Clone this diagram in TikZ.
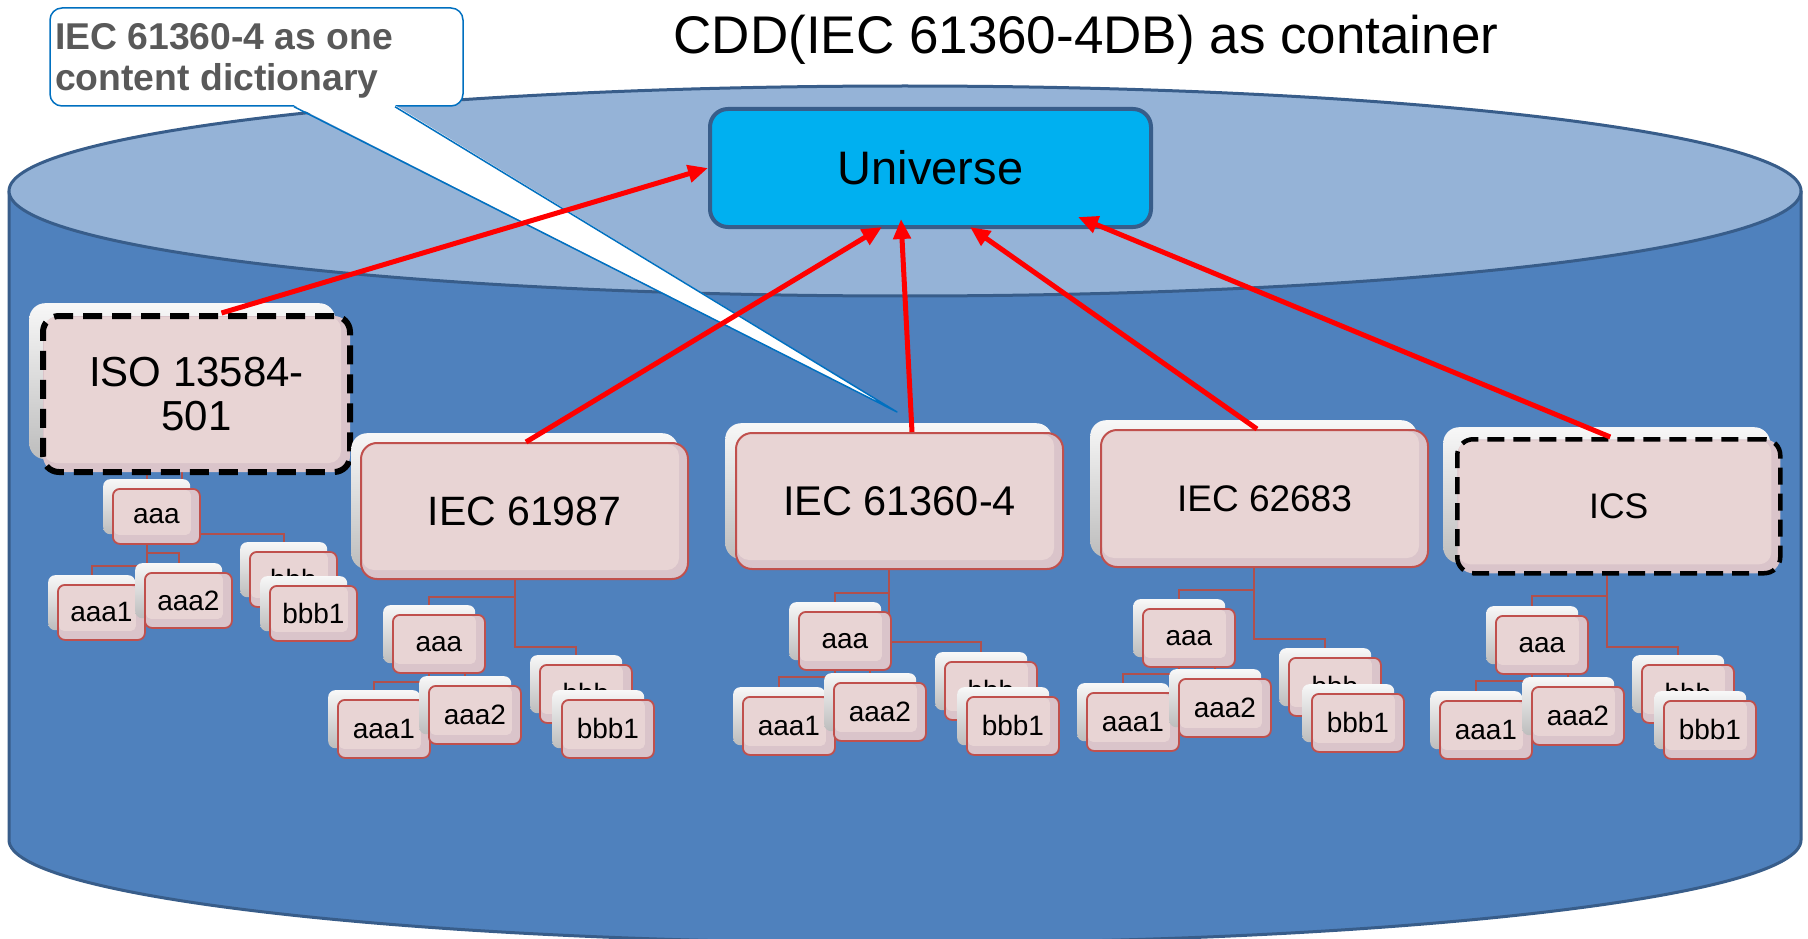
\documentclass[tikz,border=0pt]{standalone}
\usepackage{fontspec}
\setmainfont{Liberation Sans}
\usetikzlibrary{arrows.meta}

\definecolor{cylbody}{HTML}{4F81BD}
\definecolor{cyltop}{HTML}{95B3D7}
\definecolor{cylline}{HTML}{385D8A}
\definecolor{unifill}{HTML}{00B0F0}
\definecolor{cardred}{HTML}{C0504D}
\definecolor{cardfill}{HTML}{E8D4D4}
\definecolor{cardshade}{HTML}{DAC4CA}
\definecolor{treered}{HTML}{B0504D}
\definecolor{callblue}{HTML}{0070C0}
\definecolor{calltext}{HTML}{595959}

\pgfdeclarelayer{bg}
\pgfdeclarelayer{conn}
\pgfsetlayers{bg,conn,main}

% card size and front/back offset
\newcommand\cw{92pt}
\newcommand\ch{58pt}
\newcommand\coff{9}

\tikzset{
  shadeinner/.style={path picture={\fill[cardfill, rounded corners=#1]
      ([shift={(1pt,-1pt)}]path picture bounding box.north west) rectangle
      ([shift={(-9pt,9pt)}]path picture bounding box.south east);}},
  backcard/.style={anchor=north west, inner sep=0pt, rounded corners=7pt,
      top color=white!97!black, bottom color=white!74!black,
      minimum width=\cw, minimum height=\ch},
  frontcard/.style={anchor=north west, inner sep=0pt, rounded corners=7pt,
      fill=cardshade, draw=cardred, line width=1.8pt, shadeinner=5pt,
      minimum width=\cw, minimum height=\ch, font=\fontsize{28}{30}\selectfont},
  mainback/.style={anchor=north west, inner sep=0pt, rounded corners=16pt,
      top color=white!97!black, bottom color=white!74!black},
  mainfront/.style={anchor=north west, inner sep=0pt, rounded corners=16pt,
      fill=cardshade, draw=cardred, line width=2pt, shadeinner=12pt, align=center},
  dashedfront/.style={mainfront, draw=black, dash pattern=on 19pt off 10pt},
  treeline/.style={draw=treered, line width=1.8pt},
  relarrow/.style={draw=red, line width=5pt, -{Triangle[length=20pt,width=17pt]}},
  calltxt/.style={anchor=base west, inner sep=0pt, text=calltext,
      font=\fontsize{37.3}{40}\selectfont\bfseries},
}

% a card: white back card plus pink front card
\newcommand\card[4]{%
  \node[backcard] (#1-b) at (#2,#3) {};
  \node[frontcard] (#1) at (#2+\coff,#3+\coff) {#4};}
% elbow connector between back cards, horizontal run at y = #3
\newcommand\link[3]{\draw[treeline] (#1-b.south) |- (#2-b.north |- 0,#3) -- (#2-b.north);}

\begin{document}
\begin{tikzpicture}[x=1pt,y=-1pt]
\useasboundingbox (0,0) rectangle (1808,939);

% container cylinder
\begin{pgfonlayer}{bg}
  \fill[white] (0,0) rectangle (1808,939);
  \fill[cylbody] (9,191) -- (9,840) .. controls (9,896.9) and (410.1,943) .. (905,943)
      .. controls (1399.9,943) and (1801,896.9) .. (1801,840) -- (1801,191) -- cycle;
  \draw[cylline, line width=3pt] (9,191) -- (9,840) .. controls (9,896.9) and (410.1,943) .. (905,943)
      .. controls (1399.9,943) and (1801,896.9) .. (1801,840) -- (1801,191);
  \draw[cylline, line width=3pt, fill=cyltop] (905,191) ellipse [x radius=896pt, y radius=105pt];
\end{pgfonlayer}

% title
\node[font=\fontsize{53}{60}\selectfont, anchor=base, inner sep=0pt] (title) at (1086,54)
  {CDD(IEC 61360-4DB) as container};

% dictionaries
\node[mainback, minimum width=306pt, minimum height=156pt] (t1-b) at (29,303) {};
\node[dashedfront, line width=6pt, minimum width=307pt, minimum height=156pt,
      font=\fontsize{42}{44}\selectfont] (t1) at (40,313) {ISO 13584-\\501};

\node[mainback, minimum width=327pt, minimum height=136pt] (t2-b) at (351,433) {};
\node[mainfront, minimum width=327pt, minimum height=136pt,
      font=\fontsize{41}{44}\selectfont] (t2) at (360,442) {IEC 61987};

\node[mainback, minimum width=327pt, minimum height=136pt] (t3-b) at (725,423) {};
\node[mainfront, minimum width=327pt, minimum height=136pt,
      font=\fontsize{41.5}{44}\selectfont] (t3) at (735,432) {IEC 61360-4};

\node[mainback, minimum width=327pt, minimum height=137pt] (t4-b) at (1090,420) {};
\node[mainfront, minimum width=327pt, minimum height=137pt,
      font=\fontsize{37}{40}\selectfont] (t4) at (1100,429) {IEC 62683};

\node[mainback, minimum width=327pt, minimum height=136pt] (t5-b) at (1443,427) {};
\node[dashedfront, line width=4.5pt, dash pattern=on 17pt off 9pt, minimum width=323pt,
      minimum height=134pt, font=\fontsize{35.5}{40}\selectfont] (t5) at (1455,437) {ICS};

% ISO 13584-501 tree
\renewcommand\cw{87pt}\renewcommand\ch{55pt}
\card{t1aaa}{103}{479}{aaa}
\card{t1bbb}{240}{542}{bbb}
\card{t1aaa1}{48}{575}{aaa1}
\card{t1aaa2}{135}{563}{aaa2}
\card{t1bbb1}{260}{576}{bbb1}

% IEC 61987 tree
\renewcommand\cw{92pt}\renewcommand\ch{58pt}
\card{t2aaa}{383}{605}{aaa}
\card{t2bbb}{530}{655}{bbb}
\card{t2aaa1}{328}{690}{aaa1}
\card{t2aaa2}{419}{676}{aaa2}
\card{t2bbb1}{552}{690}{bbb1}

% IEC 61360-4 tree
\card{t3aaa}{789}{602}{aaa}
\card{t3bbb}{935}{652}{bbb}
\card{t3aaa1}{733}{687}{aaa1}
\card{t3aaa2}{824}{673}{aaa2}
\card{t3bbb1}{957}{687}{bbb1}

% IEC 62683 tree
\card{t4aaa}{1133}{599}{aaa}
\card{t4bbb}{1279}{648}{bbb}
\card{t4aaa1}{1077}{683}{aaa1}
\card{t4aaa2}{1169}{669}{aaa2}
\card{t4bbb1}{1302}{684}{bbb1}

% ICS tree
\card{t5aaa}{1486}{606}{aaa}
\card{t5bbb}{1632}{655}{bbb}
\card{t5aaa1}{1430}{691}{aaa1}
\card{t5aaa2}{1522}{677}{aaa2}
\card{t5bbb1}{1654}{691}{bbb1}

% tree connectors, behind the cards
\begin{pgfonlayer}{conn}
  \link{t1}{t1aaa}{471}   \link{t1}{t1bbb}{534}
  \link{t1aaa}{t1aaa1}{566} \link{t1aaa}{t1aaa2}{553}
  \link{t2}{t2aaa}{597}   \link{t2}{t2bbb}{647}
  \link{t2aaa}{t2aaa1}{682} \link{t2aaa}{t2aaa2}{670}
  \link{t3}{t3aaa}{593}   \link{t3}{t3bbb}{642}
  \link{t3aaa}{t3aaa1}{677} \link{t3aaa}{t3aaa2}{666}
  \link{t4}{t4aaa}{590}   \link{t4}{t4bbb}{639}
  \link{t4aaa}{t4aaa1}{674} \link{t4aaa}{t4aaa2}{663}
  \link{t5}{t5aaa}{596}   \link{t5}{t5bbb}{647}
  \link{t5aaa}{t5aaa1}{681} \link{t5aaa}{t5aaa2}{670}
\end{pgfonlayer}

% root
\node[fill=unifill, draw=cylline, line width=4pt, rounded corners=18pt, inner sep=0pt,
      minimum width=441pt, minimum height=118pt, font=\fontsize{47}{50}\selectfont]
      (U) at (930.5,168) {Universe};

% callout
\node[draw=callblue, line width=1.5pt, fill=white, rounded corners=12pt, inner sep=0pt,
      minimum width=413pt, minimum height=98pt] (callout) at (256.5,57) {};
\coordinate (calltip) at (897,412);
\fill[white] ([xshift=37.5pt,yshift=1.5pt]callout.south) -- (calltip)
      -- ([xshift=138.5pt,yshift=1.5pt]callout.south) -- cycle;
\draw[callblue, line width=1.5pt, line join=round] ([xshift=37.5pt]callout.south)
      -- (calltip) -- ([xshift=138.5pt]callout.south);
\node[calltxt] (callline1) at (55,50) {IEC 61360-4 as one};
\node[calltxt] (callline2) at (55,91) {content dictionary};

% membership arrows
\draw[relarrow] ([xshift=25pt]t1.north) -- (U.west);
\draw[relarrow] ([xshift=1.5pt]t2.north) -- ([xshift=-48.5pt,yshift=2pt]U.south);
\draw[relarrow] ([xshift=12.5pt]t3.north) -- ([xshift=-29.5pt,yshift=10pt]U.south);
\draw[relarrow] ([xshift=-7.5pt]t4.north) -- ([xshift=39.5pt,yshift=2pt]U.south);
\draw[relarrow] ([xshift=-8.5pt]t5.north) -- ([xshift=147.5pt,yshift=12pt]U.south);
\end{tikzpicture}
\end{document}
